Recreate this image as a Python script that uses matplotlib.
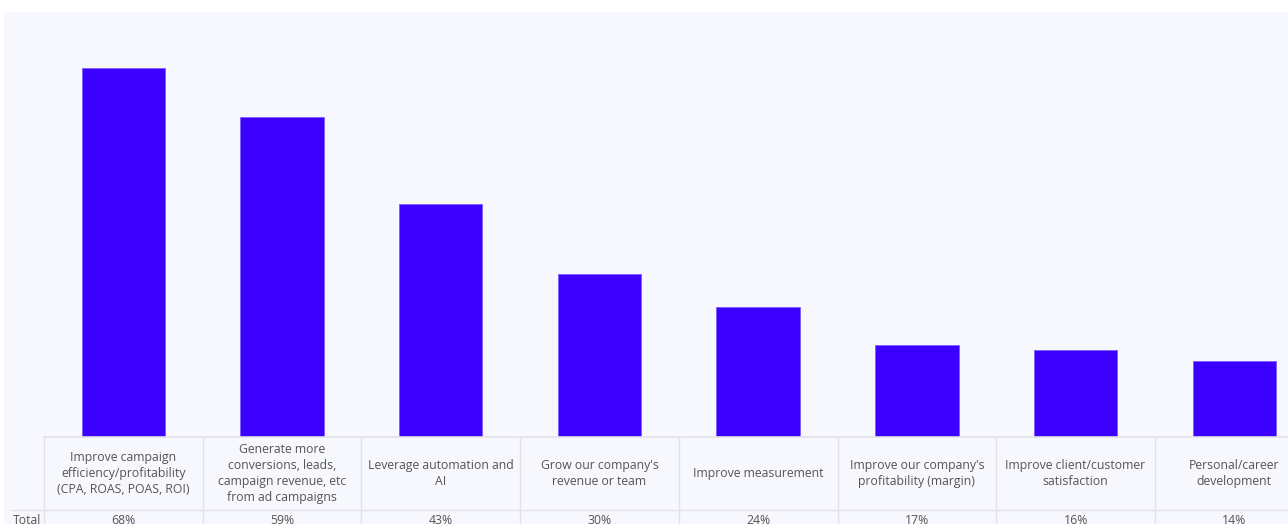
import matplotlib
matplotlib.use("Agg")
import matplotlib.pyplot as plt
from matplotlib.patches import Rectangle

categories = [
    "Improve campaign\nefficiency/profitability\n(CPA, ROAS, POAS, ROI)",
    "Generate more\nconversions, leads,\ncampaign revenue, etc\nfrom ad campaigns",
    "Leverage automation and\nAI",
    "Grow our company's\nrevenue or team",
    "Improve measurement",
    "Improve our company's\nprofitability (margin)",
    "Improve client/customer\nsatisfaction",
    "Personal/career\ndevelopment",
]
values = [68, 59, 43, 30, 24, 17, 16, 14]
value_labels = ["68%", "59%", "43%", "30%", "24%", "17%", "16%", "14%"]
row_label = "Total"

W, H = 1288, 524
fig = plt.figure(figsize=(W / 100, H / 100), dpi=100)
fig.patch.set_facecolor("white")
plt.rcParams['font.family'] = ['Open Sans', 'DejaVu Sans']

# light panel
fig.patches.append(Rectangle((4 / W, 0), 1 - 4 / W, (H - 12) / H, transform=fig.transFigure,
                             facecolor="#F7F8FD", edgecolor="none", zorder=-10))

col_w = 158.7
x0 = 44
xmin = (0 - x0) / col_w - 0.5
xmax = (W - x0) / col_w - 0.5

base_px = 437
top_px = 12
ppu = 5.42
ax = fig.add_axes([0, (H - base_px) / H, 1, (base_px - top_px) / H])
ax.set_facecolor("none")
xs = list(range(len(values)))
ax.bar(xs, values, width=0.525, color="#3C00FF", edgecolor="#7A5CFF", linewidth=0.6)
ax.set_xlim(xmin, xmax)
ax.set_ylim(0, (base_px - top_px) / ppu)
ax.axis("off")

tab = fig.add_axes([0, 0, 1, (H - base_px) / H])
tab.set_facecolor("none")
tab.set_xlim(xmin, xmax)
tab.set_ylim(0, 1)
tab.axis("off")

grid = "#E2E2E8"
text_c = "#555555"
tab.plot([-0.5, xmax], [1, 1], color=grid, lw=1.2, clip_on=False)
hx = (12 - x0) / col_w - 0.5
tab.plot([hx, xmax], [0.161, 0.161], color=grid, lw=1)
for i in range(len(values) + 1):
    tab.plot([i - 0.5, i - 0.5], [0, 1], color=grid, lw=1)

fs = 8.8
for i, (c, v) in enumerate(zip(categories, value_labels)):
    tab.text(i, 0.58, c, ha="center", va="center", fontsize=fs, color=text_c, linespacing=1.33)
    tab.text(i, 0.045, v, ha="center", va="center", fontsize=fs, color=text_c)
tab.text(hx + 0.005, 0.045, row_label, ha="left", va="center", fontsize=fs, color=text_c)

fig.savefig("out.png", dpi=100, facecolor=fig.get_facecolor())
